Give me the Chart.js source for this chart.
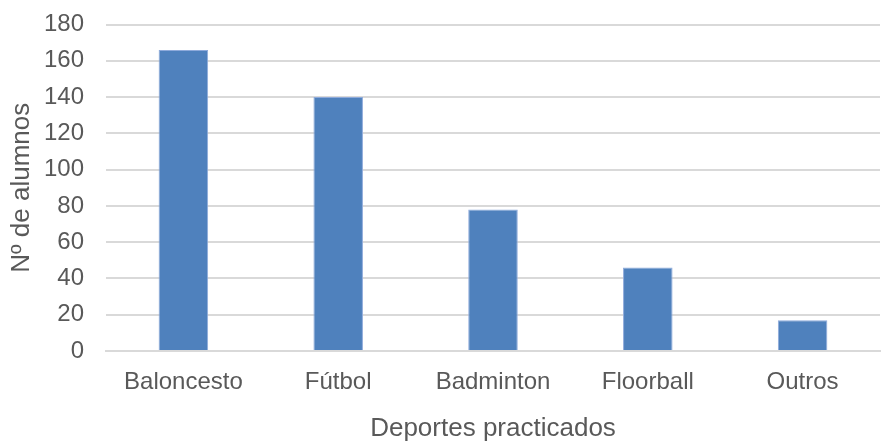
<!DOCTYPE html>
<html>
<head>
<meta charset="utf-8">
<script src="https://cdn.jsdelivr.net/npm/chart.js@4/dist/chart.umd.min.js"></script>
<style>
html,body{margin:0;padding:0;background:#fff;}
#wrap{width:891px;height:442px;position:relative;}
</style>
</head>
<body>
<div id="wrap"><canvas id="c" width="891" height="442"></canvas></div>
<script>
const categories = ["Baloncesto", "Fútbol", "Badminton", "Floorball", "Outros"];
const values = [166, 140, 78, 46, 17];
const yTicks = [0, 20, 40, 60, 80, 100, 120, 140, 160, 180];

const FONT = "'Liberation Sans', Arial, sans-serif";
const TXT = "#595959";

new Chart(document.getElementById('c'), {
  type: 'bar',
  data: {
    labels: categories,
    datasets: [{
      data: values,
      backgroundColor: '#4F81BD',
      borderColor: '#8EAADB',
      borderWidth: 1,
      categoryPercentage: 1,
      barPercentage: 0.32
    }]
  },
  options: {
    responsive: false,
    animation: false,
    devicePixelRatio: 1,
    layout: { padding: { top: 0, right: 11, bottom: 0, left: 0 } },
    plugins: { legend: { display: false }, tooltip: { enabled: false } },
    scales: {
      x: {
        afterFit: (axis) => { axis.height = 91; },
        grid: { display: false, drawTicks: false },
        border: { color: '#d9d9d9', width: 2 },
        ticks: { color: TXT, font: { family: FONT, size: 24 }, padding: 17, maxRotation: 0 },
        title: { display: true, text: 'Deportes practicados', color: TXT, font: { family: FONT, size: 26, lineHeight: 1.0 }, padding: { top: 16, bottom: 0 } }
      },
      y: {
        min: 0, max: 180,
        afterFit: (axis) => { axis.width = 106; axis.paddingTop = 24.5; axis.paddingBottom = 0; },
        afterBuildTicks: (axis) => { axis.ticks = yTicks.map(v => ({ value: v })); },
        grid: { color: '#d9d9d9', lineWidth: 2, drawTicks: false },
        border: { display: false },
        ticks: { color: TXT, font: { family: FONT, size: 24 }, padding: 22 },
        title: { display: true, text: 'Nº de alumnos', color: TXT, font: { family: FONT, size: 26 }, padding: { top: 6, bottom: 9 } }
      }
    }
  }
});
</script>
</body>
</html>
